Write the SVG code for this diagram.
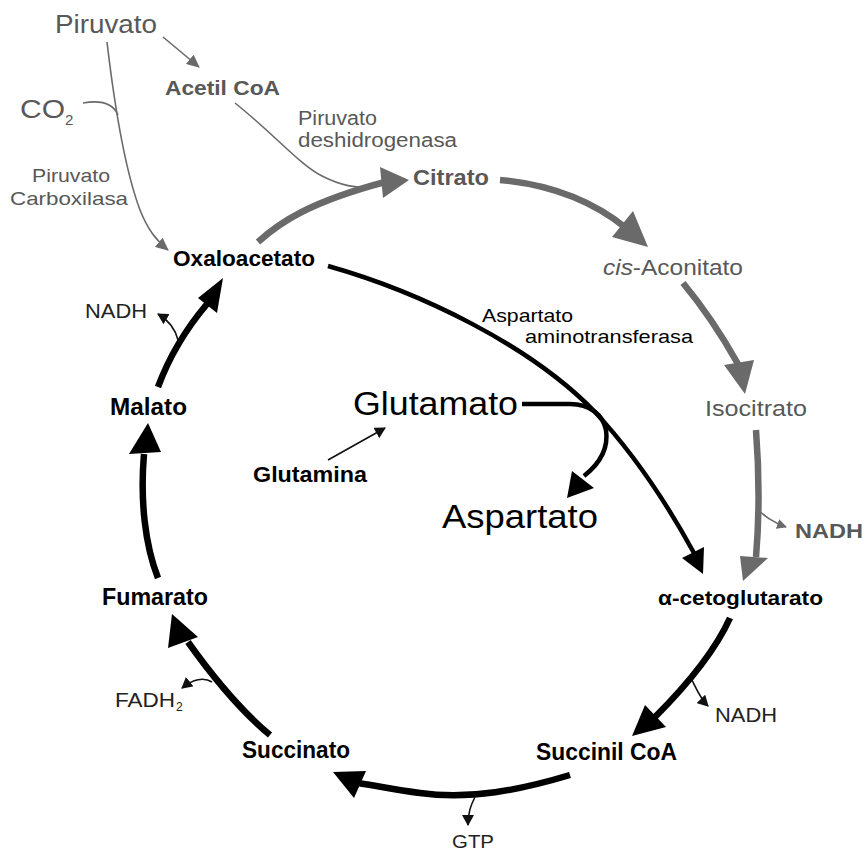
<svg xmlns="http://www.w3.org/2000/svg" width="866" height="854" viewBox="0 0 866 854">
<defs>
<style>
text{font-family:"Liberation Sans",Arial,sans-serif;}
.g{fill:#585858;}
.k{fill:#000;}
.d{fill:#222;}
.b{font-weight:bold;}
.thinG{fill:none;stroke:#6a6a6a;stroke-width:1.6;}
.thickG{fill:none;stroke:#6a6a6a;stroke-width:6.5;}
.thickK{fill:none;stroke:#000;stroke-width:6.5;}
.medK{fill:none;stroke:#000;stroke-width:4.5;}
.thinK{fill:none;stroke:#111;stroke-width:1.6;}
.headG{fill:#6a6a6a;}
.headK{fill:#000;}
</style>
<marker id="ag" markerUnits="userSpaceOnUse" markerWidth="14" markerHeight="12" refX="12" refY="6" orient="auto"><path d="M0,0 L13,6 L0,12 Z" fill="#6a6a6a"/></marker>
<marker id="agS" markerUnits="userSpaceOnUse" markerWidth="10" markerHeight="10" refX="9" refY="5" orient="auto"><path d="M0,0 L10,5 L0,10 Z" fill="#6a6a6a"/></marker>
<marker id="ak" markerUnits="userSpaceOnUse" markerWidth="12" markerHeight="12" refX="10" refY="6" orient="auto"><path d="M0,0 L11,6 L0,12 Z" fill="#111"/></marker>
</defs>
<rect width="866" height="854" fill="#fff"/>

<g id="connectors">
  <!-- gray thin -->
  <path class="thinG" d="M163,37 L199,67" marker-end="url(#ag)"/>
  <path class="thinG" d="M107,42 C115,110 125,170 140,210 C148,230 156,240 168,250" marker-end="url(#ag)"/>
  <path class="thinG" d="M83,103 C100,100 113,103 118,115"/>
  <path class="thinG" d="M235,103 C275,135 300,165 322,176 C342,186 355,188 372,187"/>
  <path class="thinG" d="M758,510 C765,516 772,522 786,527" marker-end="url(#agS)"/>
  <!-- gray thick -->
  <path class="thickG" d="M258,242 C280,222 310,202 385,182"/>
  <polygon class="headG" points="380,167 409,180 383,198"/>
  <path class="thickG" d="M500,180 C555,185 595,203 626,228"/>
  <polygon class="headG" points="633,211 612,237 648,247"/>
  <path class="thickG" d="M683,283 C703,307 720,332 738,364"/>
  <polygon class="headG" points="724,365 754,360 745,394"/>
  <path class="thickG" d="M756,430 C759,470 760,510 756,557"/>
  <polygon class="headG" points="740,556 768,558 743,581"/>
  <!-- black thick cycle -->
  <path class="thickK" d="M730,618 C720,640 700,672 655,717"/>
  <polygon class="headK" points="645,705 666,727 632,736"/>
  <path class="thinK" d="M692,680 C696,688 700,698 708,706" marker-end="url(#ak)"/>
  <path class="thickK" d="M570,775 C520,790 470,800 420,793 C395,790 378,786 358,783"/>
  <polygon class="headK" points="333,772 366,771 354,798"/>
  <path class="thinK" d="M475,797 C471,805 468,812 468,825" marker-end="url(#ak)"/>
  <path class="thickK" d="M270,735 C240,710 215,680 188,642"/>
  <polygon class="headK" points="172,614 198,637 168,648"/>
  <path class="thinK" d="M212,682 C204,677 193,679 182,688" marker-end="url(#ak)"/>
  <path class="thickK" d="M158,578 C145,545 140,500 144,454"/>
  <polygon class="headK" points="129,454 161,452 148,423"/>
  <path class="thickK" d="M158,387 C168,360 185,330 207,304"/>
  <polygon class="headK" points="223,278 198,298 217,313"/>
  <path class="thinK" d="M178,340 C175,328 168,320 158,314" marker-end="url(#ak)"/>
  <!-- transamination -->
  <path class="medK" d="M328,266 C420,292 530,345 595,412 C635,455 665,500 694,553"/>
  <polygon class="headK" points="682,558 704,547 703,574"/>
  <path class="medK" d="M522,404 L570,404 C590,404 603,415 606,430 C609,450 598,465 584,476"/>
  <polygon class="headK" points="572,471 594,488 567,498"/>
  <path class="thinK" d="M328,460 L385,428" marker-end="url(#ak)"/>
</g>

<g id="n-piruvato"><text class="g" x="55" y="33" font-size="25" textLength="102" lengthAdjust="spacingAndGlyphs">Piruvato</text></g>
<g id="n-acetilcoa"><text class="g b" x="165" y="95" font-size="21" textLength="115" lengthAdjust="spacingAndGlyphs">Acetil CoA</text></g>
<g id="n-co2"><text class="g" x="20" y="118" font-size="25" textLength="45" lengthAdjust="spacingAndGlyphs">CO</text><text class="g" x="65" y="125" font-size="15">2</text></g>
<g id="l-pcarb"><text class="g" x="32" y="182" font-size="18.5" textLength="78" lengthAdjust="spacingAndGlyphs">Piruvato</text><text class="g" x="10" y="205" font-size="18.5" textLength="118" lengthAdjust="spacingAndGlyphs">Carboxilasa</text></g>
<g id="l-pdh"><text class="g" x="298" y="125" font-size="19.5" textLength="79" lengthAdjust="spacingAndGlyphs">Piruvato</text><text class="g" x="298" y="147" font-size="19.5" textLength="159" lengthAdjust="spacingAndGlyphs">deshidrogenasa</text></g>
<g id="n-citrato"><text class="g b" x="413" y="185" font-size="22" textLength="76" lengthAdjust="spacingAndGlyphs">Citrato</text></g>
<g id="n-cisaconitato"><text class="g" x="603" y="275" font-size="22" textLength="140" lengthAdjust="spacingAndGlyphs"><tspan font-style="italic">cis</tspan>-Aconitato</text></g>
<g id="n-isocitrato"><text class="g" x="705" y="416" font-size="22" textLength="102" lengthAdjust="spacingAndGlyphs">Isocitrato</text></g>
<g id="n-nadh1"><text class="g b" x="795" y="538" font-size="21" textLength="68" lengthAdjust="spacingAndGlyphs">NADH</text></g>
<g id="n-akg"><text class="k b" x="658" y="605" font-size="20.5" textLength="165" lengthAdjust="spacingAndGlyphs">α-cetoglutarato</text></g>
<g id="n-nadh2"><text class="d" x="715" y="722" font-size="20" textLength="62" lengthAdjust="spacingAndGlyphs">NADH</text></g>
<g id="n-succinilcoa"><text class="k b" x="536" y="760" font-size="23" textLength="141" lengthAdjust="spacingAndGlyphs">Succinil CoA</text></g>
<g id="n-gtp"><text class="d" x="452" y="848" font-size="18" textLength="42" lengthAdjust="spacingAndGlyphs">GTP</text></g>
<g id="n-succinato"><text class="k b" x="242" y="758" font-size="23" textLength="108" lengthAdjust="spacingAndGlyphs">Succinato</text></g>
<g id="n-fadh2"><text class="d" x="115" y="707" font-size="20" textLength="60" lengthAdjust="spacingAndGlyphs">FADH</text><text class="d" x="176" y="711" font-size="12">2</text></g>
<g id="n-fumarato"><text class="k b" x="102" y="605" font-size="23" textLength="106" lengthAdjust="spacingAndGlyphs">Fumarato</text></g>
<g id="n-malato"><text class="k b" x="110" y="415" font-size="23" textLength="77" lengthAdjust="spacingAndGlyphs">Malato</text></g>
<g id="n-nadh3"><text class="d" x="85" y="318" font-size="20" textLength="62" lengthAdjust="spacingAndGlyphs">NADH</text></g>
<g id="n-oxaloacetato"><text class="k b" x="173" y="266" font-size="22" textLength="142" lengthAdjust="spacingAndGlyphs">Oxaloacetato</text></g>
<g id="n-glutamina"><text class="k b" x="253" y="482" font-size="22" textLength="114" lengthAdjust="spacingAndGlyphs">Glutamina</text></g>
<g id="n-glutamato"><text class="k" x="353" y="415" font-size="33" textLength="165" lengthAdjust="spacingAndGlyphs">Glutamato</text></g>
<g id="n-aspartato"><text class="k" x="442" y="528" font-size="33" textLength="156" lengthAdjust="spacingAndGlyphs">Aspartato</text></g>
<g id="l-ast"><text class="k" x="482" y="322" font-size="19" textLength="91" lengthAdjust="spacingAndGlyphs">Aspartato</text><text class="k" x="525" y="343" font-size="19" textLength="168" lengthAdjust="spacingAndGlyphs">aminotransferasa</text></g>
</svg>
